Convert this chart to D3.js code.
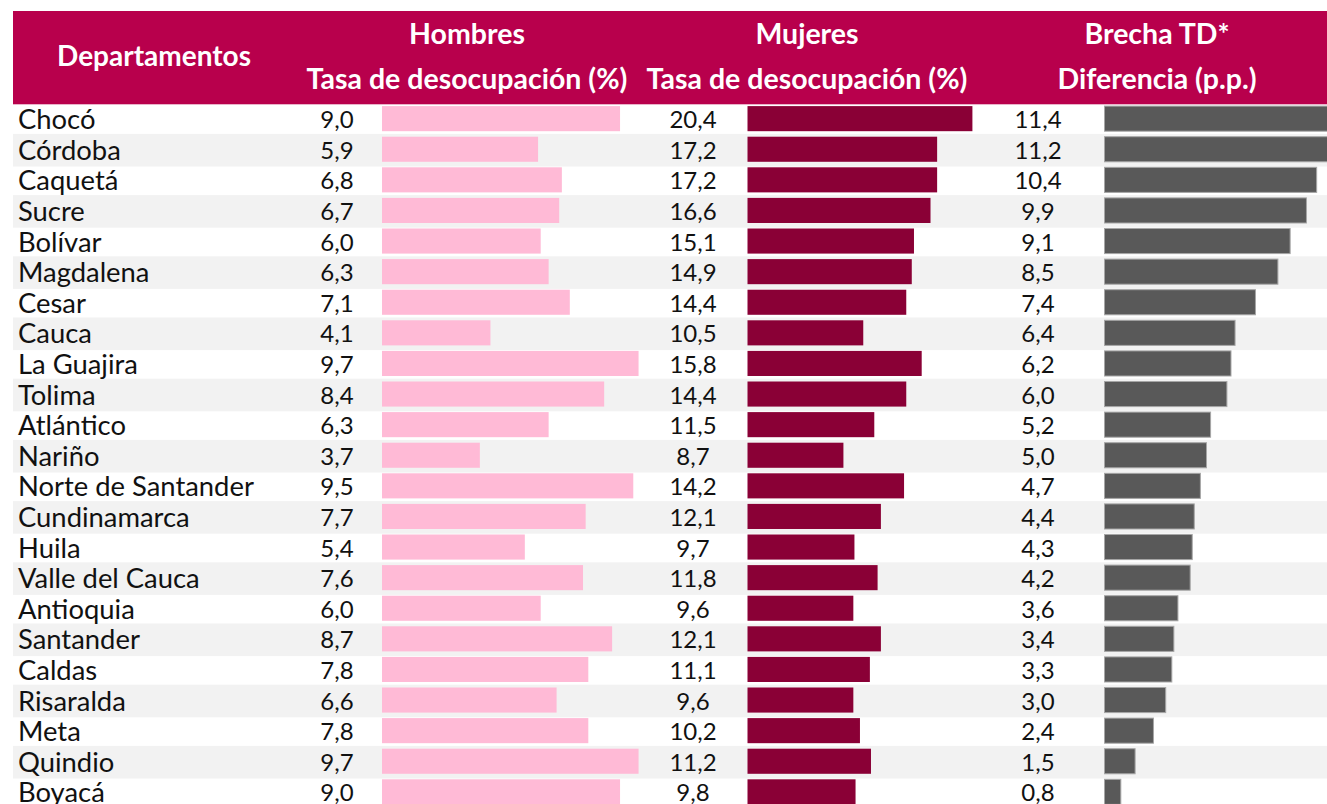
<!DOCTYPE html>
<html><head><meta charset="utf-8">
<script src="https://cdn.jsdelivr.net/npm/d3@7"></script>
<style>
html,body{margin:0;padding:0;background:#fff;}
svg{display:block;}
</style>
</head><body>
<svg id="chart" width="1327" height="804"></svg>
<script>
const departamentos = ["Chocó","Córdoba","Caquetá","Sucre","Bolívar","Magdalena","Cesar","Cauca","La Guajira","Tolima","Atlántico","Nariño","Norte de Santander","Cundinamarca","Huila","Valle del Cauca","Antioquia","Santander","Caldas","Risaralda","Meta","Quindio","Boyacá"];
const hombres = [9.0,5.9,6.8,6.7,6.0,6.3,7.1,4.1,9.7,8.4,6.3,3.7,9.5,7.7,5.4,7.6,6.0,8.7,7.8,6.6,7.8,9.7,9.0];
const mujeres = [20.4,17.2,17.2,16.6,15.1,14.9,14.4,10.5,15.8,14.4,11.5,8.7,14.2,12.1,9.7,11.8,9.6,12.1,11.1,9.6,10.2,11.2,9.8];
const brecha = [11.4,11.2,10.4,9.9,9.1,8.5,7.4,6.4,6.2,6.0,5.2,5.0,4.7,4.4,4.3,4.2,3.6,3.4,3.3,3.0,2.4,1.5,0.8];
const headerTop = ["Hombres","Mujeres","Brecha TD*"];
const headerSub = ["Tasa de desocupación (%)","Tasa de desocupación (%)","Diferencia (p.p.)"];
const headerFirst = "Departamentos";

const W = 1327, H = 804;
const svg = d3.select("#chart");
const FONT = "Lato, 'Open Sans', sans-serif";
const fmt = v => d3.format(".1f")(v).replace(".", ",");

const rows = departamentos.map((d,i)=>({dep:d, h:hombres[i], m:mujeres[i], b:brecha[i], i}));

const top0 = 104.3, step = 30.6;
const y = d3.scaleBand().domain(departamentos).range([top0, top0 + step*departamentos.length]);

const xH = d3.scaleLinear().domain([0,10]).range([382, 382+264.5]);
const xM = d3.scaleLinear().domain([0,20]).range([747.5, 747.5+220.5]);
const xB = d3.scaleLinear().domain([0,10]).range([1104.5, 1104.5+204]);

// row bands
svg.append("g").selectAll("rect").data(rows.filter(r=>r.i%2===1)).join("rect")
  .attr("x",13).attr("width",W-13)
  .attr("y",r=>y(r.dep)-1).attr("height",y.bandwidth()+2)
  .attr("fill","#f2f2f2");

// header
svg.append("rect").attr("x",13).attr("y",11).attr("width",W-13).attr("height",top0-11).attr("fill","#b8004c");
const hdr = svg.append("g").attr("fill","#fff").attr("font-family",FONT).attr("font-weight","bold").attr("text-anchor","middle");
hdr.append("text").attr("x",154).attr("y",66).attr("font-size",28).text(headerFirst);
const hx = [467, 807, 1157];
hdr.selectAll("text.t").data(headerTop).join("text").attr("class","t")
  .attr("x",(d,i)=>hx[i]).attr("y",44).attr("font-size",28.5).text(d=>d);
hdr.selectAll("text.s").data(headerSub).join("text").attr("class","s")
  .attr("x",(d,i)=>hx[i]).attr("y",89).attr("font-size",28.5).text(d=>d);

const barY = d => y(d) + 1.8;
const barH = y.bandwidth()*0.82;

const g = svg.append("g").attr("font-family",FONT).attr("font-size",24).attr("fill","#111");

// labels
g.selectAll("text.lab").data(rows).join("text").attr("class","lab")
  .attr("x",18).attr("y",r=>y(r.dep)+y.bandwidth()/2).attr("dy","0.35em")
  .attr("font-size",27.4).text(r=>r.dep);

// hombres
g.selectAll("text.vh").data(rows).join("text").attr("class","vh").attr("text-anchor","middle")
  .attr("x",337).attr("y",r=>y(r.dep)+y.bandwidth()/2).attr("dy","0.36em").text(r=>fmt(r.h));
svg.append("g").selectAll("rect").data(rows).join("rect")
  .attr("x",xH(0)).attr("y",r=>barY(r.dep)).attr("height",barH)
  .attr("width",r=>xH(r.h)-xH(0)).attr("fill","#ffbad6");

// mujeres
g.selectAll("text.vm").data(rows).join("text").attr("class","vm").attr("text-anchor","middle")
  .attr("x",693).attr("y",r=>y(r.dep)+y.bandwidth()/2).attr("dy","0.36em").text(r=>fmt(r.m));
svg.append("g").selectAll("rect").data(rows).join("rect")
  .attr("x",xM(0)).attr("y",r=>barY(r.dep)).attr("height",barH)
  .attr("width",r=>xM(r.m)-xM(0)).attr("fill","#8a0036");

// brecha
g.selectAll("text.vb").data(rows).join("text").attr("class","vb").attr("text-anchor","middle")
  .attr("x",1038).attr("y",r=>y(r.dep)+y.bandwidth()/2).attr("dy","0.36em").text(r=>fmt(r.b));
svg.append("g").selectAll("rect").data(rows).join("rect")
  .attr("x",xB(0)).attr("y",r=>barY(r.dep)).attr("height",barH)
  .attr("width",r=>xB(r.b)-xB(0)).attr("fill","#595959")
  .attr("stroke","#a6a6a6").attr("stroke-width",1);
</script>
</body></html>
